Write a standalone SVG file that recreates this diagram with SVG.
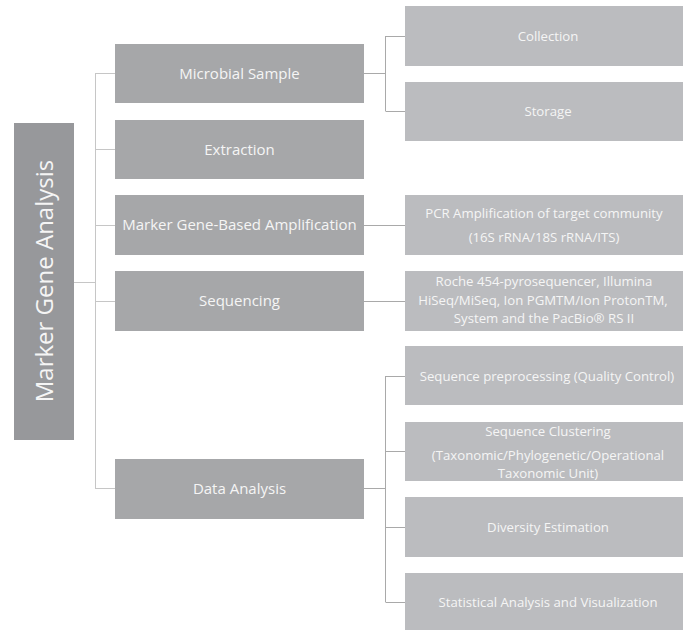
<svg xmlns="http://www.w3.org/2000/svg" width="683" height="630" viewBox="0 0 683 630">
<style>
.root{fill:#97989b}
.l1{fill:#a6a7a9}
.l2{fill:#bbbcbf}
text{font-family:"Open Sans","DejaVu Sans",sans-serif;fill:#f5f5f5;text-anchor:middle}
.t1{font-size:15px}
.t2{font-size:13.2px}
.c1{stroke:#c6c6c6;stroke-width:1;fill:none}
.c2{stroke:#a9a9a9;stroke-width:1;fill:none}
</style>
<rect width="683" height="630" fill="#ffffff"/>
<g id="connectors">
<path class="c1" d="M74 282.5H95.5M95.5 73V489M95.5 73.5H115M95.5 149.5H115M95.5 225.5H115M95.5 301.5H115M95.5 488.5H115"/>
<path class="c2" d="M364 73.5H385.5M385.5 36V111M385.5 36.5H405M385.5 111.5H405"/>
<path class="c2" d="M364 225.5H405M364 301.5H405"/>
<path class="c2" d="M364 488.5H385.5M385.5 376V602M385.5 376.5H405M385.5 451.5H405M385.5 527.5H405M385.5 602.5H405"/>
</g>
<g id="root">
<rect class="root" x="14" y="123" width="60" height="317"/>
<text transform="translate(52.5,281) rotate(-90)" style="font-size:24px">Marker Gene Analysis</text>
</g>
<g id="microbial-sample">
<rect class="l1" x="115" y="44" width="249" height="59"/>
<text class="t1" x="239.5" y="79">Microbial Sample</text>
</g>
<g id="extraction">
<rect class="l1" x="115" y="120" width="249" height="59"/>
<text class="t1" x="239.5" y="155">Extraction</text>
</g>
<g id="marker-amplification">
<rect class="l1" x="115" y="195" width="249" height="60"/>
<text class="t1" x="239.5" y="230">Marker Gene-Based Amplification</text>
</g>
<g id="sequencing">
<rect class="l1" x="115" y="271" width="249" height="60"/>
<text class="t1" x="239.5" y="306">Sequencing</text>
</g>
<g id="data-analysis">
<rect class="l1" x="115" y="459" width="249" height="60"/>
<text class="t1" x="239.5" y="494">Data Analysis</text>
</g>
<g id="collection">
<rect class="l2" x="405" y="6" width="280" height="60"/>
<text class="t2" x="548" y="41">Collection</text>
</g>
<g id="storage">
<rect class="l2" x="405" y="82" width="280" height="59"/>
<text class="t2" x="548" y="116">Storage</text>
</g>
<g id="pcr">
<rect class="l2" x="405" y="195" width="280" height="60"/>
<text class="t2" x="544" y="218">PCR Amplification of target community</text>
<text class="t2" x="544" y="242">(16S rRNA/18S rRNA/ITS)</text>
</g>
<g id="sequencers">
<rect class="l2" x="405" y="271" width="280" height="60"/>
<text class="t2" x="544" y="286">Roche 454-pyrosequencer, Illumina</text>
<text class="t2" x="543" y="305">HiSeq/MiSeq, Ion PGMTM/Ion ProtonTM,</text>
<text class="t2" x="544" y="323">System and the PacBio® RS II</text>
</g>
<g id="preprocessing">
<rect class="l2" x="405" y="346" width="280" height="59"/>
<text class="t2" x="547" y="381">Sequence preprocessing (Quality Control)</text>
</g>
<g id="clustering">
<rect class="l2" x="405" y="422" width="280" height="59"/>
<text class="t2" x="548" y="436">Sequence Clustering</text>
<text class="t2" x="548" y="460">(Taxonomic/Phylogenetic/Operational</text>
<text class="t2" x="548" y="478">Taxonomic Unit)</text>
</g>
<g id="diversity">
<rect class="l2" x="405" y="497" width="280" height="60"/>
<text class="t2" x="548" y="532">Diversity Estimation</text>
</g>
<g id="statistical">
<rect class="l2" x="405" y="573" width="280" height="60"/>
<text class="t2" x="548" y="607">Statistical Analysis and Visualization</text>
</g>
</svg>
